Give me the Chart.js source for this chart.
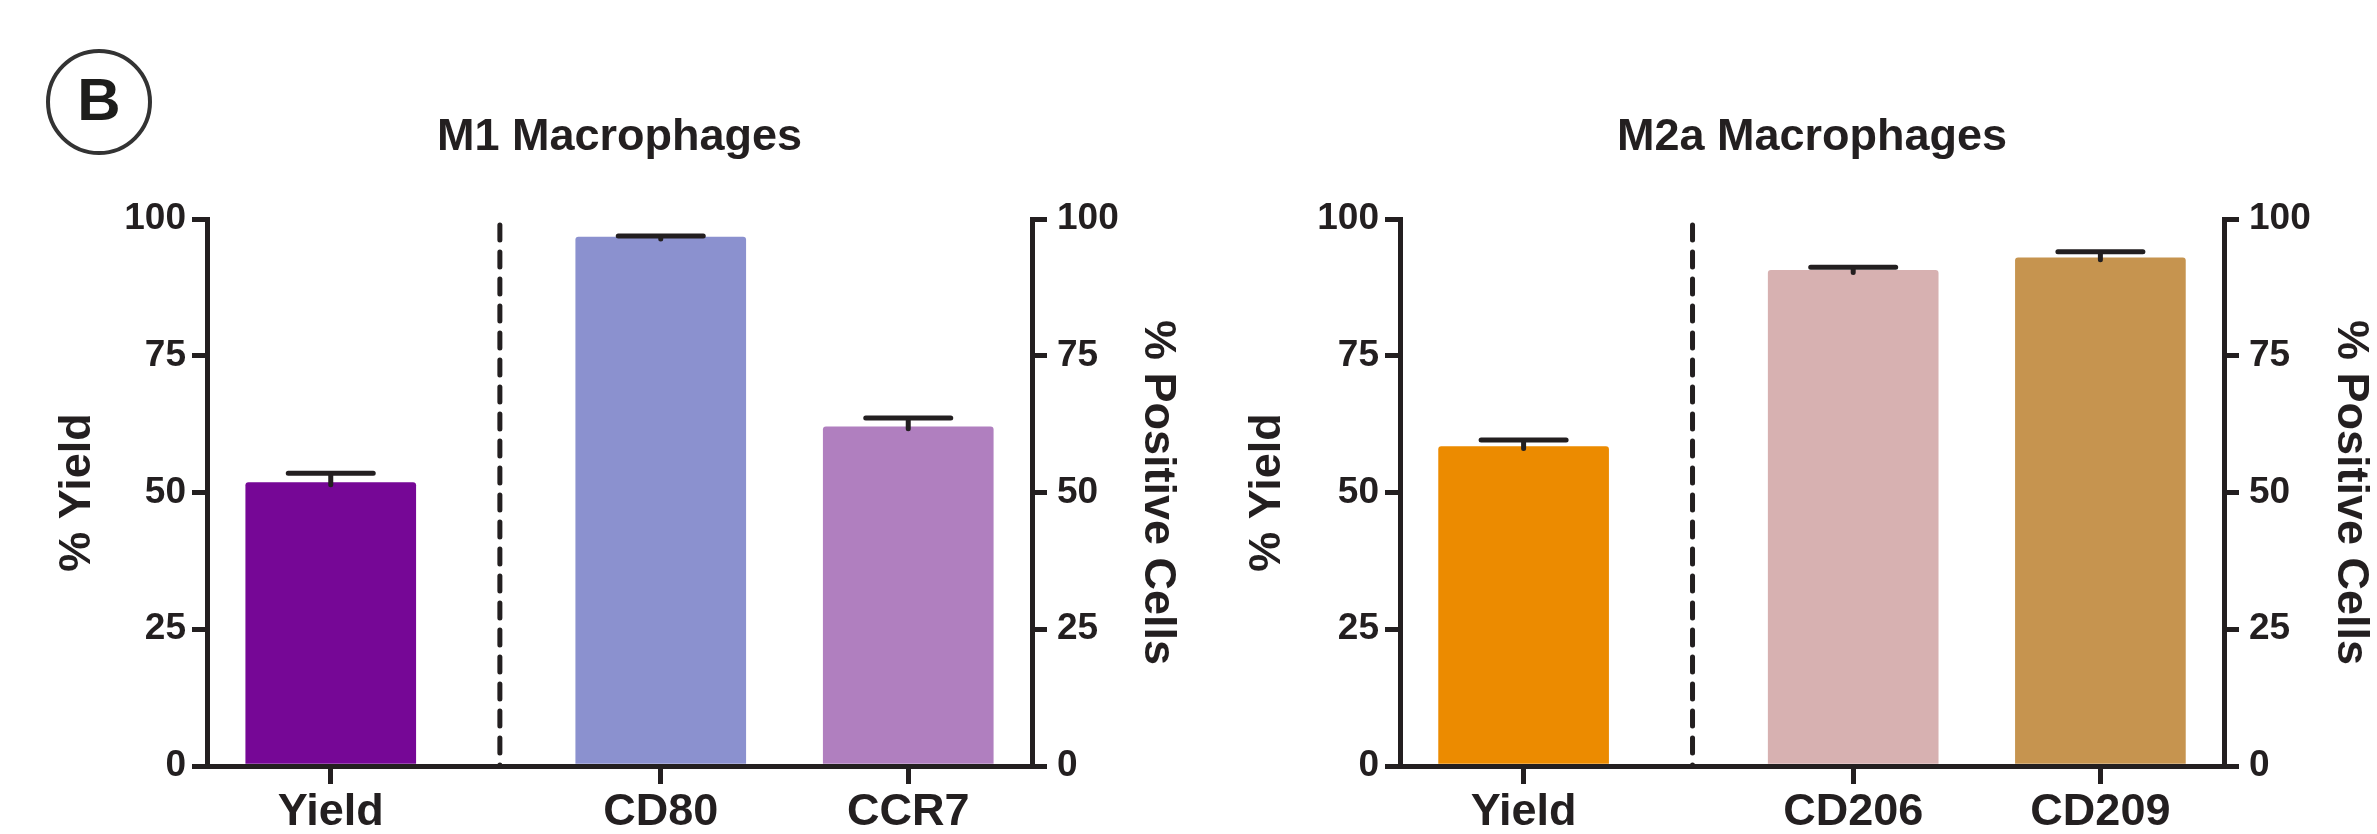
<!DOCTYPE html>
<html>
<head>
<meta charset="utf-8">
<title>M1 / M2a Macrophages</title>
<script src="https://cdn.jsdelivr.net/npm/chart.js@4.4.1/dist/chart.umd.min.js"></script>
<style>
  html, body { margin: 0; padding: 0; background: #fff; }
  body { width: 2377px; height: 834px; position: relative; overflow: hidden; }
  canvas { position: absolute; top: 0; }
  #m1 { left: 0; }
  #m2 { left: 1210px; }
  .panel-tag {
    position: absolute; left: 46px; top: 49px; width: 106px; height: 106px;
    box-sizing: border-box; border: 4px solid #333; border-radius: 50%;
    display: flex; align-items: center; justify-content: center;
    font: bold 60px 'Liberation Sans', Arial, sans-serif; color: #1d1d1b;
    padding-bottom: 6px;
  }
</style>
</head>
<body>
<div class="panel-tag">B</div>
<canvas id="m1" width="1210" height="834"></canvas>
<canvas id="m2" width="1167" height="834"></canvas>
<script>
const m1Title = 'M1 Macrophages';
const m1Labels = ['Yield', 'CD80', 'CCR7'];
const m1Means = [51.8, 96.7, 62.0];
const m1Sem = [1.7, 0.2, 1.6];

const m2Title = 'M2a Macrophages';
const m2Labels = ['Yield', 'CD206', 'CD209'];
const m2Means = [58.4, 90.6, 92.9];
const m2Sem = [1.2, 0.6, 1.1];

const yTicks = [0, 25, 50, 75, 100];
const yTitleLeft = '% Yield';
const yTitleRight = '% Positive Cells';

const m1Colors = ['#760796', '#8b91cf', '#b07fbf'];
const m2Colors = ['#ec8b00', '#d7b1b1', '#c6944f'];

const INK = '#231f20';
Chart.defaults.font.family = "'Liberation Sans', Arial, sans-serif";
Chart.defaults.font.weight = 'bold';
Chart.defaults.color = INK;

// x layout: Yield, then the dashed divider, then the two marker bars
const slots = [0, 4, 7];
const dividerSlot = 2.05;

const divider = {
  id: 'divider',
  beforeDatasetsDraw(chart) {
    const { ctx, chartArea } = chart;
    const x = chart.scales.x.getPixelForValue(dividerSlot);
    ctx.save();
    ctx.strokeStyle = INK;
    ctx.lineWidth = 5;
    ctx.lineCap = 'round';
    ctx.setLineDash([15, 12]);
    ctx.beginPath();
    ctx.moveTo(x, chartArea.top + 6);
    ctx.lineTo(x, chartArea.bottom);
    ctx.stroke();
    ctx.restore();
  }
};

// SEM bars, upper half only (like the original figure)
const errorBars = {
  id: 'errorBars',
  afterDatasetsDraw(chart) {
    const ctx = chart.ctx;
    ctx.save();
    ctx.strokeStyle = INK;
    ctx.lineWidth = 5;
    ctx.lineCap = 'round';
    chart.data.datasets.forEach((ds, i) => {
      const meta = chart.getDatasetMeta(i);
      const ys = chart.scales[meta.yAxisID];
      meta.data.forEach((bar, j) => {
        const top = ys.getPixelForValue(ds.data[j].y + ds.sem[j]);
        const half = bar.width / 4;
        ctx.beginPath();
        ctx.moveTo(bar.x, bar.y + 2);
        ctx.lineTo(bar.x, top);
        ctx.moveTo(bar.x - half, top);
        ctx.lineTo(bar.x + half, top);
        ctx.stroke();
      });
    });
    ctx.restore();
  }
};

function yAxis(position, text, width, titlePad, tickPad) {
  return {
    position,
    min: 0,
    max: 100,
    afterBuildTicks: s => { s.ticks = yTicks.map(v => ({ value: v })); },
    afterFit: s => { s.width = width; },
    ticks: { font: { size: 37 }, padding: tickPad, color: INK },
    grid: { drawOnChartArea: false, drawTicks: true, tickLength: 15, lineWidth: 5, color: INK },
    border: { display: true, width: 5, color: INK },
    title: { display: true, text, font: { size: 45 }, padding: { top: titlePad, bottom: 0 }, color: INK }
  };
}

function makeChart(id, title, labels, means, sem, colors, g) {
  const pts = means.map((v, i) => ({ x: slots[i], y: v }));
  return new Chart(document.getElementById(id), {
    type: 'bar',
    data: {
      datasets: [
        { label: labels[0], data: pts.slice(0, 1), sem: sem.slice(0, 1), backgroundColor: colors.slice(0, 1), yAxisID: 'y' },
        { label: 'Markers', data: pts.slice(1), sem: sem.slice(1), backgroundColor: colors.slice(1), yAxisID: 'y2' }
      ]
    },
    options: {
      responsive: false,
      animation: false,
      layout: { padding: { top: 111, left: 0, right: 0, bottom: 0 } },
      datasets: { bar: { grouped: false, barThickness: 170, borderRadius: 3, borderSkipped: 'bottom' } },
      plugins: {
        legend: { display: false },
        tooltip: { enabled: false },
        title: {
          display: true, text: title, fullSize: false, color: INK,
          font: { size: 45 }, padding: { top: 0, bottom: 54 }
        }
      },
      scales: {
        x: {
          type: 'linear',
          min: -1.5,
          max: 8.5,
          offset: false,
          afterBuildTicks: s => { s.ticks = slots.map(v => ({ value: v })); },
          afterFit: s => { s.height = 68; },
          ticks: {
            callback: v => labels[slots.indexOf(v)],
            font: { size: 45 }, padding: 2, autoSkip: false, maxRotation: 0, color: INK
          },
          grid: { offset: false, drawOnChartArea: false, tickLength: 18, lineWidth: 5, color: INK },
          border: { display: true, width: 5, color: INK }
        },
        y: yAxis('left', yTitleLeft, g.leftW, g.leftPad, 6),
        y2: yAxis('right', yTitleRight, g.rightW, g.rightPad, 10)
      }
    },
    plugins: [divider, errorBars]
  });
}

makeChart('m1', m1Title, m1Labels, m1Means, m1Sem, m1Colors, { leftW: 207, leftPad: 51, rightW: 178, rightPad: 26 });
makeChart('m2', m2Title, m2Labels, m2Means, m2Sem, m2Colors, { leftW: 190, leftPad: 31, rightW: 153, rightPad: 0 });
</script>
</body>
</html>
